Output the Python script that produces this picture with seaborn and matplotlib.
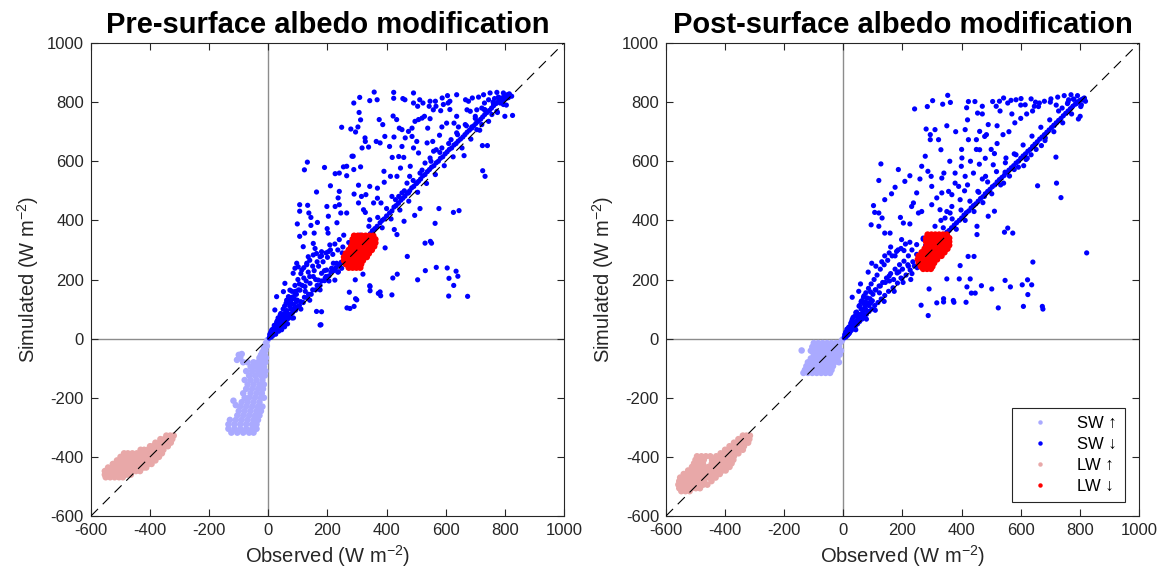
import numpy as np
import pandas as pd
import matplotlib
matplotlib.use("Agg")
import matplotlib.pyplot as plt
import seaborn as sns

# --- DATA: (observed, simulated) in W m-2 ---

# SW up, pre modification (light purple column below the origin)
sw_up_pre = [
    (-3, -5), (-8, -15), (-5, -25), (-15, -30), (-10, -40), (-20, -45), (-25, -55), (-12, -55),
    (-30, -65), (-18, -70), (-8, -65),
    (-100, -55), (-90, -52), (-106, -72), (-95, -65), (-85, -80),
    (-70, -80), (-50, -80), (-35, -80), (-20, -80), (-10, -80),
    (-60, -95), (-45, -95), (-30, -95), (-15, -95),
    (-75, -110), (-55, -110), (-35, -110), (-20, -110), (-10, -110),
    (-65, -125), (-45, -125), (-25, -125), (-12, -125),
    (-80, -140), (-60, -140), (-40, -140), (-20, -140),
    (-70, -155), (-50, -155), (-30, -155), (-15, -155),
    (-75, -170), (-55, -170), (-35, -170), (-18, -170),
    (-85, -185), (-60, -185), (-40, -185), (-22, -185),
    (-80, -200), (-65, -200), (-45, -200), (-25, -200), (-15, -200),
    (-90, -215), (-70, -215), (-50, -215), (-30, -215),
    (-95, -230), (-75, -230), (-55, -230), (-35, -230), (-20, -230),
    (-100, -245), (-80, -245), (-60, -245), (-40, -245), (-25, -245),
    (-105, -260), (-85, -260), (-65, -260), (-45, -260), (-30, -260),
    (-130, -275), (-110, -275), (-90, -275), (-70, -275), (-50, -275), (-35, -275),
    (-135, -290), (-115, -290), (-95, -290), (-75, -290), (-55, -290), (-40, -290),
    (-135, -305), (-115, -305), (-95, -305), (-75, -305), (-55, -305), (-40, -305),
    (-125, -318), (-105, -318), (-85, -318), (-65, -318), (-50, -318),
    (-118, -210), (-110, -225),
]

# SW down, pre modification (blue)
sw_dn_pre = [
    # fan near the origin and the band along the 1:1 line
    (3, 2), (5, 6), (6, 12), (8, 12), (10, 5), (10, 25), (12, 10), (14, 18), (15, 22), (18, 15),
    (20, 45), (22, 30), (25, 24), (25, 15), (28, 40), (30, 60), (32, 30), (35, 50), (35, 25),
    (38, 38), (40, 80), (42, 60), (45, 44), (45, 35), (48, 70), (50, 100), (52, 52), (55, 85),
    (55, 40), (58, 60), (60, 120), (60, 90), (62, 95), (65, 66), (65, 50), (68, 75), (70, 140),
    (72, 110), (75, 80), (75, 130), (78, 120), (80, 160), (82, 88), (85, 100), (85, 70), (88, 135),
    (90, 180), (90, 150), (92, 96), (95, 150), (98, 108), (100, 200), (102, 165), (105, 112),
    (105, 185), (110, 125), (110, 220), (115, 180), (118, 122), (120, 240), (120, 205), (122, 140),
    (128, 195), (130, 250), (132, 138), (135, 225), (136, 150), (140, 210), (140, 265), (145, 150),
    (150, 165), (150, 245), (155, 230), (160, 165), (165, 180), (165, 260), (170, 245), (175, 180),
    (180, 195), (180, 280), (185, 260), (190, 196), (195, 210), (195, 290), (200, 275), (205, 212),
    (210, 300), (212, 225), (218, 285), (222, 230), (225, 320), (228, 240), (235, 300), (240, 248),
    (240, 335), (246, 258), (252, 310), (255, 350), (258, 265), (265, 275), (272, 325), (278, 285),
    (285, 295), (292, 300), (300, 308), (310, 318), (318, 330), (325, 335), (335, 345), (345, 355),
    (352, 365), (360, 372), (368, 380), (378, 392), (385, 400), (392, 405), (400, 415), (410, 425),
    (418, 432), (425, 445), (432, 450), (440, 458), (448, 468), (455, 475), (462, 482), (470, 492),
    (478, 500), (485, 510), (492, 515), (500, 525), (508, 532), (515, 540), (522, 550), (530, 555),
    (538, 565), (545, 572), (552, 580), (560, 585), (568, 595), (575, 600), (582, 610), (590, 615),
    (598, 625), (605, 632), (612, 640), (620, 645), (628, 655), (635, 660), (642, 668), (650, 675),
    (658, 682), (665, 690), (672, 698), (680, 705), (688, 712), (695, 720), (702, 728), (710, 735),
    (718, 742), (725, 750), (732, 758), (740, 765), (748, 772), (755, 780), (762, 788), (770, 795),
    (778, 802), (785, 808), (792, 815), (800, 820), (808, 825), (815, 828),
    # spread of the band about the 1:1 line
    (30, 45), (45, 30), (60, 75), (80, 70), (95, 125), (110, 100), (125, 160), (140, 130),
    (160, 200), (175, 165), (190, 230), (205, 195), (220, 255), (235, 225), (250, 290), (265, 250),
    (280, 320), (295, 280), (310, 350), (325, 315), (340, 380), (355, 340), (370, 410), (385, 375),
    (400, 440), (415, 405), (430, 470), (445, 435), (460, 500), (475, 465), (490, 535), (505, 495),
    (520, 570), (535, 525), (550, 600), (565, 555), (580, 630), (595, 585), (610, 660), (625, 615),
    (640, 690), (655, 645), (670, 720), (685, 675), (700, 745), (715, 705), (730, 775), (745, 735),
    (760, 800), (775, 765), (790, 800), (805, 790), (812, 815), (795, 805), (780, 815), (765, 812),
    (5, 15), (8, 20), (12, 30), (15, 10), (18, 35), (20, 20), (25, 35), (28, 55), (30, 40),
    (33, 70), (38, 55), (42, 85), (46, 60), (50, 80), (55, 110), (58, 75), (62, 130), (66, 85),
    (70, 120), (76, 100), (80, 140), (86, 115), (92, 160), (98, 130),
    # upper arm near the origin
    (84, 221), (96, 255), (101, 243), (113, 232), (130, 255), (135, 277), (152, 283), (158, 305),
    (163, 288), (175, 277), (180, 294), (203, 294), (208, 317), (214, 238), (231, 255), (237, 226),
    (152, 322), (118, 311), (90, 238), (56, 187), (51, 159), (28, 142), (22, 97), (68, 142),
    (73, 164), (107, 164), (124, 176), (141, 187), (152, 210), (169, 198), (180, 221), (192, 204),
    (197, 232), (225, 198), (248, 238),
    # scatter above the 1:1 line
    (358, 834), (424, 833), (491, 831), (309, 816), (343, 805), (368, 808), (289, 797), (424, 813),
    (455, 812), (462, 808), (512, 808), (523, 797), (544, 786), (565, 803), (588, 814), (606, 822),
    (637, 825), (614, 803), (667, 808), (690, 814),
    (132, 597), (122, 571), (106, 453), (106, 431), (98, 388), (133, 451), (137, 425), (144, 410),
    (144, 383), (166, 393), (155, 357), (123, 357), (106, 346), (163, 496), (190, 579), (210, 517),
    (226, 558), (240, 560), (248, 715), (254, 581), (265, 551), (265, 583), (287, 617), (283, 617),
    (289, 572), (312, 581), (317, 645), (327, 679), (328, 667), (339, 648), (303, 716), (312, 740),
    (307, 765), (279, 709), (295, 699), (240, 498), (236, 476), (240, 453), (245, 425), (265, 425),
    (232, 392), (203, 414), (199, 372), (202, 357), (226, 447), (198, 447), (290, 489), (305, 519),
    (305, 459), (315, 481), (330, 487), (343, 515), (322, 436), (328, 427), (343, 402), (356, 459),
    (369, 509), (369, 475), (381, 459), (392, 529), (391, 566), (378, 662), (375, 741), (387, 724),
    (394, 684), (365, 667), (410, 650), (419, 613), (425, 682), (422, 753), (434, 741), (441, 616),
    (452, 650), (458, 613), (463, 679), (443, 712), (452, 707), (474, 701), (486, 712), (486, 684),
    (496, 735), (508, 741), (505, 786), (491, 797), (520, 746), (528, 752), (539, 712), (547, 744),
    (558, 774), (547, 803), (567, 786), (583, 771), (592, 792), (608, 797), (614, 775), (637, 752),
    (643, 716), (628, 729), (603, 729), (587, 716), (579, 688), (556, 667), (559, 634), (568, 639),
    (537, 662), (502, 667), (508, 628), (491, 645), (480, 583), (478, 549), (513, 560), (502, 526),
    (469, 526), (474, 493), (452, 493), (441, 481), (418, 481), (413, 549), (435, 549), (447, 577),
    (530, 594), (547, 611), (587, 645), (618, 673), (637, 696), (666, 724), (672, 774), (683, 769),
    (677, 803), (711, 817), (728, 825), (750, 831), (773, 833), (795, 831), (815, 825), (823, 820),
    (806, 814), (778, 817), (745, 808), (731, 797), (722, 780), (733, 774), (762, 792), (784, 797),
    (705, 774), (700, 752), (688, 716), (705, 707), (722, 724), (756, 758), (773, 769), (795, 792),
    # scatter below the 1:1 line
    (163, 92), (178, 47), (266, 104), (290, 109), (295, 135), (294, 199), (320, 218), (343, 179),
    (344, 162), (378, 158), (380, 145), (418, 148), (421, 205), (436, 218), (395, 307), (470, 278),
    (505, 199), (531, 230), (568, 241), (605, 239), (611, 204), (610, 144), (627, 180), (635, 228),
    (641, 211), (674, 143), (530, 323), (548, 329), (552, 323), (564, 390), (577, 440), (626, 427),
    (645, 433), (495, 417), (513, 440), (459, 397), (426, 369), (435, 352), (725, 568), (733, 549),
    (724, 653), (741, 653), (662, 619), (826, 755), (800, 752), (274, 157), (299, 131), (276, 102),
    (175, 46), (180, 91), (344, 176), (372, 153),
]

# LW up, pre modification (pink)
lw_up_pre = [
    (-345, -328), (-332, -328), (-320, -328),
    (-365, -340), (-352, -340), (-338, -340), (-325, -340),
    (-382, -352), (-368, -352), (-355, -352), (-342, -352), (-330, -352),
    (-400, -364), (-390, -364), (-378, -364), (-365, -364), (-352, -364), (-340, -364),
    (-432, -376), (-420, -376), (-408, -376), (-396, -376), (-382, -376), (-368, -376), (-355, -376),
    (-488, -388), (-475, -388), (-460, -388), (-445, -388), (-430, -388), (-415, -388), (-400, -388),
    (-386, -388), (-372, -388), (-360, -388),
    (-500, -400), (-485, -400), (-470, -400), (-455, -400), (-440, -400), (-425, -400), (-410, -400),
    (-396, -400), (-382, -400), (-370, -400),
    (-512, -412), (-497, -412), (-482, -412), (-467, -412), (-452, -412), (-437, -412), (-422, -412),
    (-407, -412), (-393, -412), (-382, -412),
    (-526, -424), (-511, -424), (-496, -424), (-481, -424), (-466, -424), (-451, -424), (-436, -424),
    (-421, -424), (-406, -424), (-395, -424),
    (-542, -436), (-527, -436), (-512, -436), (-497, -436), (-482, -436), (-467, -436), (-452, -436),
    (-437, -436), (-422, -436), (-413, -436),
    (-553, -448), (-538, -448), (-523, -448), (-508, -448), (-493, -448), (-478, -448), (-463, -448),
    (-448, -448), (-434, -448),
    (-553, -460), (-538, -460), (-523, -460), (-508, -460), (-493, -460), (-478, -460), (-465, -460),
    (-550, -469), (-535, -469), (-520, -469), (-505, -469), (-492, -469),
]

# LW down, pre modification (red)
lw_dn_pre = [
    (290, 348), (303, 348), (316, 348), (329, 348), (342, 348), (355, 348),
    (285, 336), (298, 336), (311, 336), (324, 336), (337, 336), (350, 336), (362, 336),
    (285, 324), (298, 324), (311, 324), (324, 324), (337, 324), (350, 324), (362, 324),
    (280, 312), (293, 312), (306, 312), (319, 312), (332, 312), (345, 312), (358, 312),
    (272, 300), (285, 300), (298, 300), (311, 300), (324, 300), (337, 300), (350, 300),
    (262, 288), (275, 288), (288, 288), (301, 288), (314, 288), (327, 288), (340, 288),
    (256, 276), (269, 276), (282, 276), (295, 276), (308, 276), (321, 276), (333, 276),
    (256, 264), (269, 264), (282, 264), (295, 264), (308, 264), (320, 264),
    (262, 252), (275, 252), (288, 252), (301, 252), (314, 252),
    (272, 240), (285, 240), (298, 240), (311, 240),
]

# SW up, post modification (light purple block)
sw_up_post = [
    (-3, -3), (-6, -8), (-141, -40),
    (-100, -15), (-85, -15), (-70, -15), (-55, -15), (-40, -15), (-25, -15), (-12, -15),
    (-105, -28), (-90, -28), (-75, -28), (-60, -28), (-45, -28), (-30, -28), (-15, -28),
    (-110, -41), (-95, -41), (-80, -41), (-65, -41), (-50, -41), (-35, -41), (-20, -41), (-8, -41),
    (-100, -54), (-85, -54), (-70, -54), (-55, -54), (-40, -54), (-25, -54), (-12, -54),
    (-110, -67), (-95, -67), (-80, -67), (-65, -67), (-50, -67), (-35, -67), (-20, -67),
    (-120, -80), (-105, -80), (-90, -80), (-75, -80), (-60, -80), (-45, -80), (-30, -80), (-15, -80),
    (-125, -93), (-110, -93), (-95, -93), (-80, -93), (-65, -93), (-50, -93), (-35, -93),
    (-130, -106), (-115, -106), (-100, -106), (-85, -106), (-70, -106), (-55, -106), (-40, -106),
    (-135, -116), (-120, -116), (-105, -116), (-90, -116), (-75, -116), (-60, -116), (-45, -116),
]

# SW down, post modification (blue)
sw_dn_post = [
    # fan near the origin and the band along the 1:1 line
    (3, 3), (5, 8), (7, 14), (9, 6), (10, 22), (12, 12), (15, 28), (17, 16), (20, 40), (22, 22),
    (25, 52), (27, 28), (30, 65), (32, 33), (35, 48), (38, 75), (40, 42), (43, 58), (45, 90),
    (48, 50), (50, 70), (53, 110), (55, 58), (58, 82), (60, 125), (63, 66), (66, 95), (68, 140),
    (70, 75), (73, 108), (76, 155), (78, 82), (82, 120), (85, 170), (87, 92), (90, 135), (94, 185),
    (96, 100), (100, 150), (104, 200), (106, 112), (110, 165), (114, 215), (117, 122), (121, 178),
    (125, 235), (128, 134), (133, 190), (138, 250), (140, 146), (146, 205), (150, 265), (153, 160),
    (160, 220), (165, 280), (168, 172), (175, 235), (180, 295), (183, 188), (190, 250), (195, 305),
    (198, 203), (205, 262), (212, 215), (220, 280), (226, 232), (232, 300), (240, 246), (248, 318),
    (255, 262), (262, 270), (270, 336), (276, 282), (285, 292), (292, 300), (300, 306), (308, 316),
    (316, 324), (325, 334), (333, 340), (342, 350), (350, 360), (358, 366), (366, 375), (375, 384),
    (383, 392), (392, 400), (400, 408), (408, 418), (416, 426), (424, 432), (432, 442), (440, 450),
    (448, 456), (456, 465), (464, 474), (472, 480), (480, 490), (488, 498), (496, 505), (504, 514),
    (512, 520), (520, 530), (528, 538), (536, 545), (544, 552), (552, 562), (560, 570), (568, 578),
    (576, 585), (584, 594), (592, 600), (600, 610), (608, 618), (616, 625), (624, 634), (632, 640),
    (640, 650), (648, 658), (656, 666), (664, 675), (672, 682), (680, 690), (688, 698), (696, 706),
    (704, 714), (712, 722), (720, 730), (728, 738), (736, 745), (744, 754), (752, 762), (760, 770),
    (768, 778), (776, 786), (784, 793), (792, 800), (800, 806), (808, 810), (815, 812),
    # spread of the band about the 1:1 line
    (28, 42), (42, 30), (58, 72), (78, 66), (92, 120), (108, 96), (122, 155), (138, 126),
    (156, 195), (172, 160), (188, 226), (202, 190), (218, 250), (232, 220), (248, 285), (262, 246),
    (278, 315), (292, 276), (308, 345), (322, 310), (338, 375), (352, 336), (368, 405), (382, 370),
    (398, 435), (412, 400), (428, 465), (442, 430), (458, 495), (472, 460), (488, 530), (502, 490),
    (518, 565), (532, 520), (548, 595), (562, 550), (578, 625), (592, 580), (608, 655), (622, 610),
    (638, 685), (652, 640), (668, 715), (682, 670), (698, 740), (712, 700), (728, 770), (742, 730),
    (758, 795), (772, 760), (788, 795), (803, 785), (810, 808), (792, 800), (778, 810), (762, 808),
    (5, 14), (8, 22), (12, 32), (15, 12), (18, 38), (20, 18), (25, 38), (28, 58), (30, 38),
    (33, 72), (38, 52), (42, 88), (46, 58), (50, 82), (55, 112), (58, 72), (62, 128), (66, 84),
    (70, 118), (76, 98), (80, 138), (86, 112), (92, 158), (98, 128),
    # upper arm near the origin
    (84, 225), (96, 255), (110, 245), (130, 260), (140, 280), (155, 290), (160, 310), (175, 280),
    (185, 300), (205, 298), (210, 320), (220, 245), (235, 260), (250, 240), (30, 140), (52, 160),
    (58, 185), (70, 145), (108, 165), (125, 178), (142, 190), (155, 212), (170, 200), (182, 222),
    (195, 205), (200, 235), (228, 200), (60, 100), (75, 125),
    # scatter above the 1:1 line
    (353, 823), (302, 805), (336, 793), (362, 799), (241, 777), (284, 785), (417, 781), (423, 802),
    (445, 802), (454, 763), (470, 786), (505, 802), (517, 786), (528, 803), (542, 814), (556, 797),
    (567, 806), (584, 808), (601, 812), (615, 791), (635, 811), (646, 786), (663, 797), (680, 803),
    (702, 811), (725, 817), (747, 822), (770, 825), (792, 822), (815, 814), (819, 803), (805, 791),
    (795, 743), (801, 752), (719, 614), (721, 526), (736, 477), (657, 517), (712, 720), (683, 679),
    (670, 653), (635, 622), (618, 606), (610, 585), (584, 622), (578, 572), (550, 611), (547, 563),
    (542, 526), (511, 626), (507, 588), (511, 431), (490, 414), (481, 549), (477, 481), (455, 498),
    (461, 639), (450, 673), (484, 690), (490, 724), (461, 701), (478, 684), (423, 673), (412, 707),
    (401, 611), (412, 549), (399, 583), (378, 560), (390, 515), (378, 526), (367, 487), (356, 498),
    (367, 447), (361, 425), (344, 408), (327, 436), (333, 493), (333, 543), (330, 639), (322, 673),
    (310, 707), (294, 690), (294, 673), (280, 709), (277, 617), (286, 566), (297, 549), (299, 515),
    (316, 476), (299, 453), (265, 583), (259, 540), (248, 493), (237, 459), (231, 447), (208, 532),
    (225, 551), (186, 572), (175, 512), (163, 490), (140, 470), (127, 591), (120, 535), (102, 450),
    (106, 427), (120, 425), (131, 408), (94, 385), (120, 380), (140, 357), (158, 357), (193, 410),
    (203, 391), (225, 388), (197, 335), (225, 326), (254, 425), (265, 430),
    (420, 520), (440, 560), (460, 590), (480, 610), (500, 640), (520, 660), (540, 690), (560, 700),
    (580, 730), (600, 745), (620, 760), (640, 770), (660, 785), (470, 540), (430, 600), (395, 470),
    (410, 500), (350, 430), (330, 400), (310, 380), (290, 350), (270, 340), (360, 600), (340, 560),
    (450, 640), (400, 640), (380, 700), (350, 720), (420, 740), (470, 760), (530, 770), (520, 720),
    (570, 760), (600, 790), (650, 800), (700, 800), (720, 790), (740, 780), (760, 800), (780, 810),
    # scatter below the 1:1 line
    (263, 113), (287, 78), (290, 168), (316, 121), (339, 124), (339, 135), (350, 202), (372, 129),
    (374, 123), (392, 202), (395, 247), (415, 123), (418, 175), (429, 202), (433, 154), (446, 154),
    (467, 179), (422, 278), (442, 278), (502, 168), (524, 104), (547, 197), (565, 175), (556, 374),
    (545, 360), (573, 357), (605, 182), (609, 109), (623, 199), (624, 149), (637, 182), (641, 259),
    (673, 109), (675, 100), (823, 290), (452, 352), (452, 380),
]

# LW up, post modification (pink)
lw_up_post = [
    (-340, -328), (-328, -328), (-316, -328),
    (-355, -340), (-342, -340), (-330, -340), (-318, -340),
    (-370, -352), (-357, -352), (-345, -352), (-333, -352), (-322, -352),
    (-385, -364), (-372, -364), (-360, -364), (-348, -364), (-336, -364),
    (-400, -376), (-388, -376), (-376, -376), (-364, -376), (-352, -376), (-340, -376),
    (-415, -388), (-403, -388), (-391, -388), (-379, -388), (-367, -388), (-355, -388),
    (-495, -398), (-480, -398), (-465, -398), (-450, -398), (-430, -398), (-418, -398),
    (-406, -398), (-394, -398), (-382, -398), (-370, -398),
    (-500, -410), (-486, -410), (-472, -410), (-444, -410), (-430, -410), (-418, -410),
    (-406, -410), (-394, -410), (-382, -410), (-372, -410),
    (-505, -422), (-490, -422), (-475, -422), (-445, -422), (-430, -422), (-416, -422),
    (-402, -422), (-390, -422), (-378, -422),
    (-512, -434), (-498, -434), (-484, -434), (-470, -434), (-456, -434), (-440, -434),
    (-425, -434), (-410, -434), (-396, -434), (-385, -434),
    (-525, -446), (-510, -446), (-495, -446), (-480, -446), (-465, -446), (-450, -446),
    (-436, -446), (-422, -446), (-408, -446), (-398, -446),
    (-540, -458), (-525, -458), (-510, -458), (-495, -458), (-480, -458), (-466, -458),
    (-452, -458), (-440, -458), (-428, -458), (-418, -458),
    (-552, -470), (-538, -470), (-524, -470), (-510, -470), (-496, -470), (-482, -470),
    (-468, -470), (-455, -470), (-442, -470), (-432, -470),
    (-555, -482), (-541, -482), (-527, -482), (-513, -482), (-499, -482), (-485, -482),
    (-471, -482), (-446, -482),
    (-558, -494), (-544, -494), (-530, -494), (-516, -494), (-502, -494), (-488, -494),
    (-474, -494), (-460, -494),
    (-555, -506), (-541, -506), (-527, -506), (-513, -506), (-499, -506), (-485, -506),
    (-548, -516), (-534, -516), (-520, -516),
]

# LW down, post modification (red)
lw_dn_post = [
    (285, 352), (298, 352), (311, 352), (324, 352), (337, 352), (350, 352),
    (280, 340), (293, 340), (306, 340), (319, 340), (332, 340), (345, 340), (358, 340),
    (280, 328), (293, 328), (306, 328), (319, 328), (332, 328), (345, 328), (358, 328),
    (282, 316), (295, 316), (308, 316), (321, 316), (334, 316), (347, 316), (358, 316),
    (275, 304), (288, 304), (301, 304), (314, 304), (327, 304), (340, 304), (352, 304),
    (265, 292), (278, 292), (291, 292), (304, 292), (317, 292), (330, 292), (342, 292),
    (255, 280), (268, 280), (281, 280), (294, 280), (307, 280), (320, 280), (332, 280),
    (252, 268), (265, 268), (278, 268), (291, 268), (304, 268), (317, 268),
    (255, 256), (268, 256), (281, 256), (294, 256), (307, 256),
    (262, 244), (275, 244), (288, 244), (301, 244),
    (270, 236), (283, 236), (296, 236),
]

flux_labels = ["SW \u2191", "SW \u2193", "LW \u2191", "LW \u2193"]
flux_colours = ["#aaaaff", "#0000ff", "#e8a8a8", "#ff0000"]
axis_ticks = [-600, -400, -200, 0, 200, 400, 600, 800, 1000]
titles = ["Pre-surface albedo modification", "Post-surface albedo modification"]

panel_data = [
    [sw_up_pre, sw_dn_pre, lw_up_pre, lw_dn_pre],
    [sw_up_post, sw_dn_post, lw_up_post, lw_dn_post],
]


def to_frame(groups):
    parts = []
    for name, pts in zip(flux_labels, groups):
        arr = np.array(pts, dtype=float)
        parts.append(pd.DataFrame({"obs": arr[:, 0], "sim": arr[:, 1], "flux": name}))
    return pd.concat(parts, ignore_index=True)


# --- STYLE ---
plt.rcParams["font.family"] = ["Liberation Sans", "DejaVu Sans"]
plt.rcParams["mathtext.fontset"] = "custom"
plt.rcParams["mathtext.rm"] = "Liberation Sans"
plt.rcParams["mathtext.default"] = "regular"
plt.rcParams["axes.unicode_minus"] = False
text_col = "#262626"

fig = plt.figure(figsize=(11.6, 5.82), dpi=100)
positions = [[0.0784, 0.1134, 0.4078, 0.8127], [0.5741, 0.1134, 0.4078, 0.8127]]
# the dense clouds are drawn with slightly bigger dots so they read as filled
dot_size = {"SW \u2191": 22, "SW \u2193": 14, "LW \u2191": 22, "LW \u2193": 22}

for i in range(2):
    ax = fig.add_axes(positions[i])
    df = to_frame(panel_data[i])

    ax.axhline(0, color="#8c8c8c", lw=1.0, zorder=1)
    ax.axvline(0, color="#8c8c8c", lw=1.0, zorder=1)
    sns.scatterplot(data=df, x="obs", y="sim", hue="flux", hue_order=flux_labels,
                    palette=flux_colours, size="flux", sizes=dot_size, linewidth=0, alpha=1,
                    ax=ax, legend=(i == 1), zorder=2)
    ax.plot([-600, 1000], [-600, 1000], color="black", lw=0.8, ls=(0, (9, 6)), zorder=3)

    ax.set_xlim(-600, 1000)
    ax.set_ylim(-600, 1000)
    ax.set_xticks(axis_ticks)
    ax.set_yticks(axis_ticks)
    ax.tick_params(direction="in", top=True, right=True, length=5, width=0.8,
                   colors=text_col, labelsize=12, pad=5)
    for sp in ax.spines.values():
        sp.set_color(text_col)
        sp.set_linewidth(0.8)

    ax.set_title(titles[i], fontsize=21, fontweight="bold", color="black", pad=7)
    ax.set_xlabel("Observed (W m$^{-2}$)", fontsize=14.5, color=text_col, labelpad=4)
    ax.set_ylabel("Simulated (W m$^{-2}$)", fontsize=14.5, color=text_col, labelpad=4)

    if i == 1:
        sns.move_legend(ax, "lower right", title=None, frameon=True, fancybox=False,
                        fontsize=12, borderaxespad=0.85, handlelength=2.4,
                        handletextpad=1.0, labelspacing=0.35, borderpad=0.5,
                        framealpha=1, edgecolor=text_col)
        leg = ax.get_legend()
        leg.get_frame().set_linewidth(0.8)
        # same small dot for every legend entry
        for h in leg.legend_handles:
            if hasattr(h, "set_markersize"):
                h.set_markersize(3.2)
            else:
                h.set_sizes([10])

fig.savefig("out.png", dpi=100)
